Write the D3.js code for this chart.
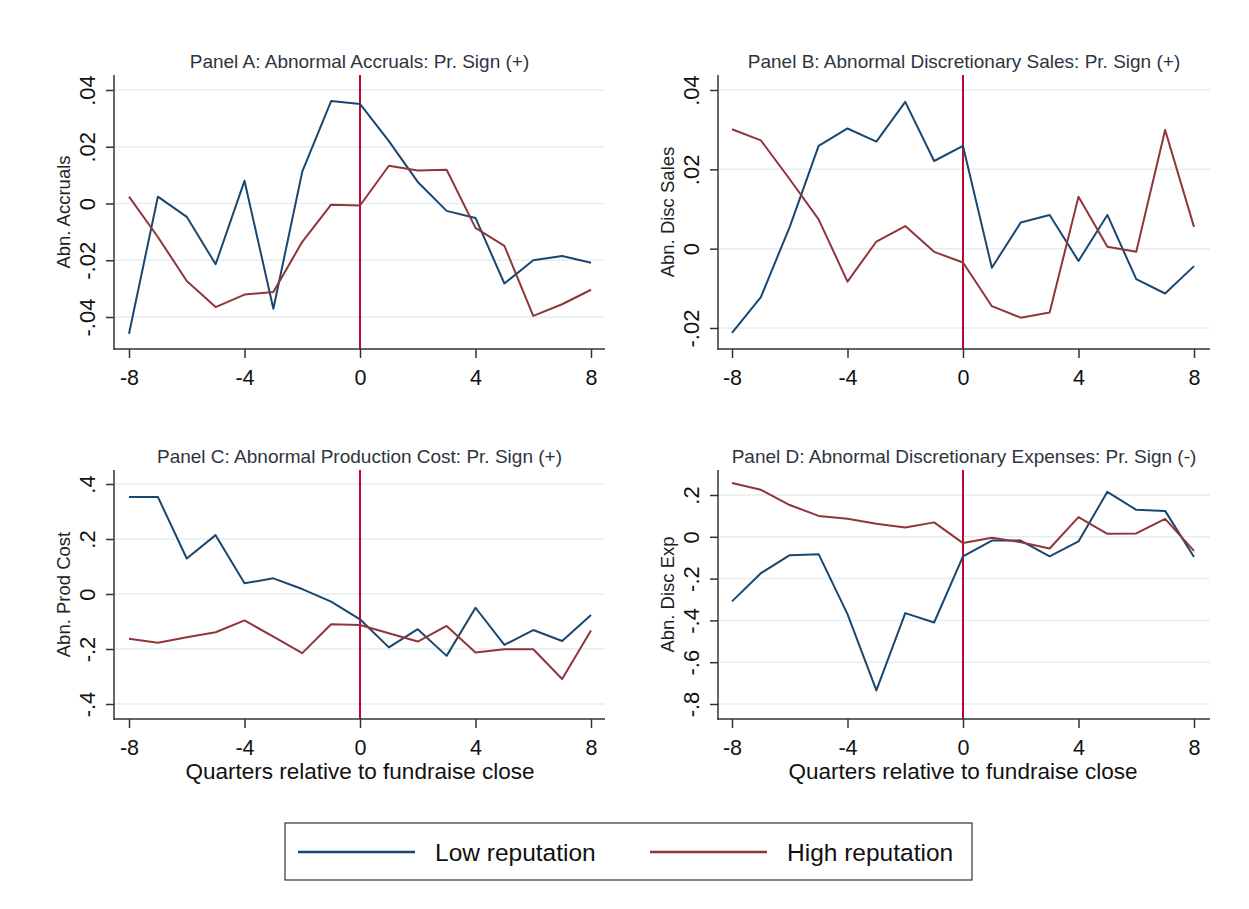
<!DOCTYPE html>
<html lang="en">
<head>
<meta charset="UTF-8">
<title>Earnings management around fundraise close</title>
<style>
  body { margin: 0; background: #fff; }
  svg text { font-family: Arial, "Liberation Sans", sans-serif; }
</style>
</head>
<body>
<svg id="chart" width="1249" height="909"></svg>
<script src="https://d3js.org/d3.v7.min.js"></script>
<script>
// quarters relative to fundraise close
const quarters = [-8, -7, -6, -5, -4, -3, -2, -1, 0, 1, 2, 3, 4, 5, 6, 7, 8];
const xTicks = [-8, -4, 0, 4, 8];

// Panel A: abnormal accruals
const accrualsLow  = [-0.0459, 0.0024, -0.0047, -0.0214, 0.0080, -0.0371, 0.0112, 0.0361, 0.0351, 0.0220, 0.0076, -0.0026, -0.0051, -0.0282, -0.0200, -0.0185, -0.0209];
const accrualsHigh = [0.0024, -0.0118, -0.0273, -0.0365, -0.0321, -0.0312, -0.0135, -0.0004, -0.0007, 0.0133, 0.0116, 0.0119, -0.0086, -0.0149, -0.0396, -0.0355, -0.0304];
const accrualsTicks = [-0.04, -0.02, 0, 0.02, 0.04];

// Panel B: abnormal discretionary sales
const salesLow  = [-0.0212, -0.0122, 0.0055, 0.0259, 0.0303, 0.0270, 0.0370, 0.0221, 0.0259, -0.0048, 0.0066, 0.0085, -0.0031, 0.0085, -0.0077, -0.0113, -0.0044];
const salesHigh = [0.0301, 0.0273, 0.0175, 0.0074, -0.0083, 0.0018, 0.0057, -0.0008, -0.0035, -0.0145, -0.0174, -0.0161, 0.0131, 0.0005, -0.0008, 0.0299, 0.0055];
const salesTicks = [-0.02, 0, 0.02, 0.04];

// Panel C: abnormal production cost
const prodLow  = [0.353, 0.353, 0.129, 0.214, 0.039, 0.057, 0.018, -0.028, -0.092, -0.194, -0.128, -0.225, -0.050, -0.185, -0.131, -0.171, -0.076];
const prodHigh = [-0.163, -0.177, -0.157, -0.139, -0.096, -0.155, -0.215, -0.110, -0.113, -0.143, -0.173, -0.116, -0.213, -0.201, -0.201, -0.309, -0.133];
const prodTicks = [-0.4, -0.2, 0, 0.2, 0.4];

// Panel D: abnormal discretionary expenses
const expLow  = [-0.309, -0.174, -0.088, -0.083, -0.370, -0.735, -0.365, -0.410, -0.094, -0.018, -0.018, -0.094, -0.022, 0.215, 0.129, 0.124, -0.097];
const expHigh = [0.257, 0.225, 0.152, 0.100, 0.086, 0.062, 0.045, 0.069, -0.030, -0.005, -0.026, -0.056, 0.094, 0.014, 0.016, 0.086, -0.067];
const expTicks = [-0.8, -0.6, -0.4, -0.2, 0, 0.2];

const seriesNames = ["Low reputation", "High reputation"];
const colors = { low: "#1a476f", high: "#90353b", event: "#c10534", grid: "#e6eef1", axis: "#333" };

const panels = [
  { title: "Panel A: Abnormal Accruals: Pr. Sign (+)", ylabel: "Abn. Accruals",
    low: accrualsLow, high: accrualsHigh, ticks: accrualsTicks,
    left: 114, right: 605, top: 75, bottom: 349, xr: [129, 591], yr: [317, 90], xtitle: false },
  { title: "Panel B: Abnormal Discretionary Sales: Pr. Sign (+)", ylabel: "Abn. Disc Sales",
    low: salesLow, high: salesHigh, ticks: salesTicks,
    left: 718, right: 1210, top: 75, bottom: 349, xr: [732, 1194], yr: [328, 90], xtitle: false },
  { title: "Panel C: Abnormal Production Cost: Pr. Sign (+)", ylabel: "Abn. Prod Cost",
    low: prodLow, high: prodHigh, ticks: prodTicks,
    left: 114, right: 605, top: 470, bottom: 719, xr: [129, 591], yr: [704, 484], xtitle: true },
  { title: "Panel D: Abnormal Discretionary Expenses: Pr. Sign (-)", ylabel: "Abn. Disc Exp",
    low: expLow, high: expHigh, ticks: expTicks,
    left: 718, right: 1210, top: 470, bottom: 719, xr: [732, 1194], yr: [704, 495], xtitle: true }
];

const svg = d3.select("#chart");
svg.append("rect").attr("width", 1249).attr("height", 909).attr("fill", "#fff");

// Stata-style labels: ".04", "-.2", plain hyphen for negatives
const fmt = d => d === 0 ? "0" : String(d).replace("0.", ".");

panels.forEach(p => {
  const g = svg.append("g");
  const x = d3.scaleLinear().domain([-8, 8]).range(p.xr);
  const y = d3.scaleLinear().domain([p.ticks[0], p.ticks[p.ticks.length - 1]]).range(p.yr);

  // gridlines
  g.append("g").selectAll("line").data(p.ticks).join("line")
    .attr("x1", p.left).attr("x2", p.right)
    .attr("y1", d => y(d)).attr("y2", d => y(d))
    .attr("stroke", colors.grid).attr("stroke-width", 1.5);

  // event line at quarter 0
  g.append("line")
    .attr("x1", x(0)).attr("x2", x(0)).attr("y1", p.top).attr("y2", p.bottom)
    .attr("stroke", colors.event).attr("stroke-width", 2);

  // series
  const line = d3.line().x((d, i) => x(quarters[i])).y(d => y(d));
  g.append("path").datum(p.low).attr("d", line)
    .attr("fill", "none").attr("stroke", colors.low).attr("stroke-width", 2).attr("stroke-linejoin", "round");
  g.append("path").datum(p.high).attr("d", line)
    .attr("fill", "none").attr("stroke", colors.high).attr("stroke-width", 2).attr("stroke-linejoin", "round");

  // y axis
  const ya = g.append("g").attr("transform", `translate(${p.left},0)`)
    .call(d3.axisLeft(y).tickValues(p.ticks).tickSize(8).tickPadding(0).tickFormat(fmt));
  ya.select(".domain").remove();
  ya.selectAll(".tick line").attr("stroke", colors.axis).attr("stroke-width", 1.5);
  ya.selectAll(".tick text")
    .attr("x", null).attr("dy", null)
    .attr("transform", "translate(-19,0) rotate(-90)")
    .attr("text-anchor", "middle")
    .attr("font-size", 22).attr("fill", "#111");
  g.append("line").attr("x1", p.left).attr("x2", p.left).attr("y1", p.top).attr("y2", p.bottom + 0.75)
    .attr("stroke", colors.axis).attr("stroke-width", 1.5);

  // x axis
  const xa = g.append("g").attr("transform", `translate(0,${p.bottom})`)
    .call(d3.axisBottom(x).tickValues(xTicks).tickSize(9).tickPadding(0).tickFormat(d => String(d)));
  xa.select(".domain").remove();
  xa.selectAll(".tick line").attr("stroke", colors.axis).attr("stroke-width", 1.5);
  xa.selectAll(".tick text").attr("y", 36).attr("dy", null)
    .attr("font-size", 21.5).attr("fill", "#111");
  g.append("line").attr("x1", p.left - 0.75).attr("x2", p.right).attr("y1", p.bottom).attr("y2", p.bottom)
    .attr("stroke", colors.axis).attr("stroke-width", 1.5);

  // titles
  g.append("text").attr("x", (p.left + p.right) / 2).attr("y", p.top - 7)
    .attr("text-anchor", "middle").attr("font-size", 19).attr("fill", "#2e3440")
    .text(p.title);
  g.append("text")
    .attr("transform", `translate(${p.left - 44},${(p.top + p.bottom) / 2}) rotate(-90)`)
    .attr("text-anchor", "middle").attr("font-size", 18.5).attr("fill", "#222")
    .text(p.ylabel);
  if (p.xtitle) {
    g.append("text").attr("x", x(0)).attr("y", p.bottom + 60)
      .attr("text-anchor", "middle").attr("font-size", 22.5).attr("fill", "#111")
      .text("Quarters relative to fundraise close");
  }
});

// legend
const legend = svg.append("g");
legend.append("rect").attr("x", 285).attr("y", 823).attr("width", 687).attr("height", 57)
  .attr("fill", "#fff").attr("stroke", "#333").attr("stroke-width", 1.2);
const legendItems = [
  { name: seriesNames[0], color: colors.low, x: 298 },
  { name: seriesNames[1], color: colors.high, x: 650 }
];
legendItems.forEach(it => {
  legend.append("line").attr("x1", it.x).attr("x2", it.x + 117).attr("y1", 852).attr("y2", 852)
    .attr("stroke", it.color).attr("stroke-width", 2.5);
  legend.append("text").attr("x", it.x + 137).attr("y", 861)
    .attr("font-size", 24.5).attr("fill", "#111").text(it.name);
});
</script>
</body>
</html>
